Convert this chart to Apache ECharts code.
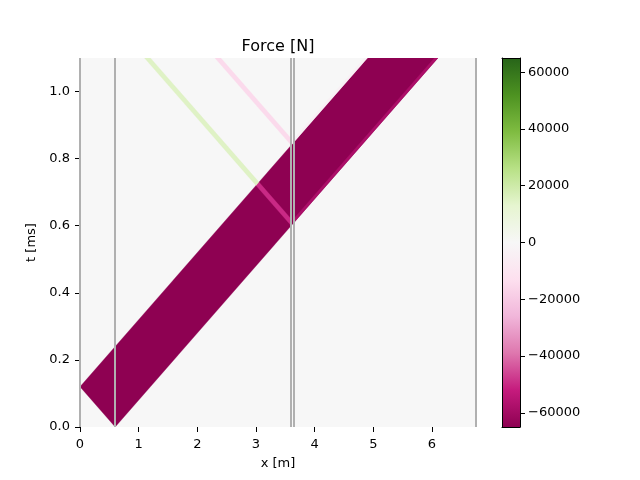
<!DOCTYPE html>
<html>
<head>
<meta charset="utf-8">
<script src="https://cdn.jsdelivr.net/npm/echarts@6/dist/echarts.min.js"></script>
<style>
  html, body { margin: 0; padding: 0; background: #fff; }
  #main { width: 640px; height: 480px; }
</style>
</head>
<body>
<div id="main"></div>
<script>
// axis ticks
const xTicks = [0, 1, 2, 3, 4, 5, 6];
const tTicks = [0, 0.2, 0.4, 0.6, 0.8, 1.0];
const forceTicks = [-60000, -40000, -20000, 0, 20000, 40000, 60000];

// positions of the bar ends / joints [m]
const interfaceX = [0, 0.6, 3.6, 3.65, 6.75];

// regions of the x-t plane, [x m, t ms] corners
const field = [[0, 0], [6.75, 0], [6.75, 1.1], [0, 1.1]];
const incidentPulse = [[0, 0.12], [0.6, 0], [6.1, 1.1], [4.9, 1.1]];
const reflectedInPulse = [[3.6, 0.6], [3.0, 0.72], [3.05, 0.73], [3.6, 0.62]];
const reflectedTension = [[3.0, 0.72], [1.1, 1.1], [1.2, 1.1], [3.05, 0.73]];
const reflectedCompression = [[3.6, 0.84], [2.3, 1.1], [2.4, 1.1], [3.6, 0.86]];
const transmittedFront = [[3.65, 0.61], [6.1, 1.1], [6.04, 1.1], [3.65, 0.622]];
const transmittedTail = [[3.6, 0.84], [4.9, 1.1], [4.85, 1.1], [3.6, 0.85]];

const regionShapes = [field, incidentPulse, reflectedInPulse, reflectedTension,
  reflectedCompression, transmittedFront, transmittedTail];
// force in each region [N]
const regionForce = [0, -65000, -50000, 15000, -15000, -58000, -4000];

const piyg = ['#8e0152', '#c51b7d', '#de77ae', '#f1b6da', '#fde0ef', '#f7f7f7',
  '#e6f5d0', '#b8e186', '#7fbc41', '#4d9221', '#276419'];

const font = 'DejaVu Sans';
const minus = (v) => String(v).replace('-', '\u2212');

const chart = echarts.init(document.getElementById('main'));

chart.setOption({
  animation: false,
  backgroundColor: '#fff',
  title: {
    text: 'Force [N]',
    left: 273,
    top: 34,
    textAlign: 'center',
    textStyle: { fontFamily: font, fontSize: 16, fontWeight: 'normal', color: '#000' },
  },
  grid: [
    { left: 80, right: 164, top: 58, bottom: 53 },
    { left: 502, top: 58, width: 18, height: 369 },
  ],
  visualMap: {
    show: false,
    type: 'continuous',
    min: -65000,
    max: 65000,
    dimension: 2,
    seriesIndex: 0,
    inRange: { color: piyg },
  },
  xAxis: [
    {
      type: 'value',
      min: 0,
      max: 6.75,
      name: 'x [m]',
      nameLocation: 'middle',
      nameGap: 30,
      nameTextStyle: { fontFamily: font, fontSize: 13, color: '#000' },
      axisLine: { show: false },
      axisTick: { show: true, length: 5, customValues: xTicks, lineStyle: { color: '#000' } },
      axisLabel: { customValues: xTicks, margin: 11, fontFamily: font, fontSize: 13, color: '#000' },
      splitLine: { show: false },
    },
    {
      type: 'value', gridIndex: 1, min: 0, max: 1, position: 'bottom', z: 10,
      axisLine: { show: true, onZero: false, lineStyle: { color: '#000', width: 1 } },
      axisTick: { show: false }, axisLabel: { show: false }, splitLine: { show: false },
    },
    {
      type: 'value', gridIndex: 1, min: 0, max: 1, position: 'top', z: 10,
      axisLine: { show: true, onZero: false, lineStyle: { color: '#000', width: 1 } },
      axisTick: { show: false }, axisLabel: { show: false }, splitLine: { show: false },
    },
  ],
  yAxis: [
    {
      type: 'value',
      min: 0,
      max: 1.1,
      name: 't [ms]',
      nameLocation: 'middle',
      nameGap: 36,
      nameTextStyle: { fontFamily: font, fontSize: 13, color: '#000' },
      axisLine: { show: false },
      axisTick: { show: true, length: 5, customValues: tTicks, lineStyle: { color: '#000' } },
      axisLabel: {
        customValues: tTicks, margin: 10, fontFamily: font, fontSize: 13, color: '#000',
        formatter: (v) => v.toFixed(1),
      },
      splitLine: { show: false },
    },
    {
      type: 'value', gridIndex: 1, min: -65000, max: 65000, position: 'right', z: 10,
      axisLine: { show: true, onZero: false, lineStyle: { color: '#000', width: 1 } },
      axisTick: { show: true, length: 5, customValues: forceTicks, lineStyle: { color: '#000' } },
      axisLabel: { customValues: forceTicks, margin: 8, fontFamily: font, fontSize: 13, color: '#000', formatter: minus },
      splitLine: { show: false },
    },
    {
      type: 'value', gridIndex: 1, min: -65000, max: 65000, position: 'left', z: 10,
      axisLine: { show: true, onZero: false, lineStyle: { color: '#000', width: 1 } },
      axisTick: { show: false }, axisLabel: { show: false }, splitLine: { show: false },
    },
  ],
  series: [
    {
      type: 'custom',
      name: 'force',
      xAxisIndex: 0,
      yAxisIndex: 0,
      clip: true,
      silent: true,
      encode: { x: 0, y: 1 },
      data: regionForce.map((f, i) => [regionShapes[i][0][0], regionShapes[i][0][1], f]),
      renderItem(params, api) {
        const pts = regionShapes[params.dataIndex].map((p) => api.coord(p));
        return {
          type: 'polygon',
          z2: params.dataIndex,
          shape: { points: pts },
          style: { fill: api.visual('color'), stroke: api.visual('color'), lineWidth: 0.3 },
        };
      },
    },
    {
      type: 'line',
      name: 'joints',
      xAxisIndex: 0,
      yAxisIndex: 0,
      data: [],
      z: 5,
      markLine: {
        silent: true,
        symbol: 'none',
        label: { show: false },
        lineStyle: { color: '#b0b0b0', width: 2, type: 'solid' },
        data: interfaceX.map((x) => ({ xAxis: x })),
      },
    },
    {
      type: 'custom',
      name: 'colorbar',
      xAxisIndex: 1,
      yAxisIndex: 1,
      silent: true,
      data: [[0, -65000, 1, 65000]],
      renderItem(params, api) {
        const a = api.coord([api.value(0), api.value(1)]);
        const b = api.coord([api.value(2), api.value(3)]);
        return {
          type: 'rect',
          shape: { x: a[0], y: b[1], width: b[0] - a[0], height: a[1] - b[1] },
          style: {
            fill: new echarts.graphic.LinearGradient(0, 1, 0, 0,
              piyg.map((c, i) => ({ offset: i / (piyg.length - 1), color: c }))),
          },
        };
      },
    },
  ],
});
</script>
</body>
</html>
